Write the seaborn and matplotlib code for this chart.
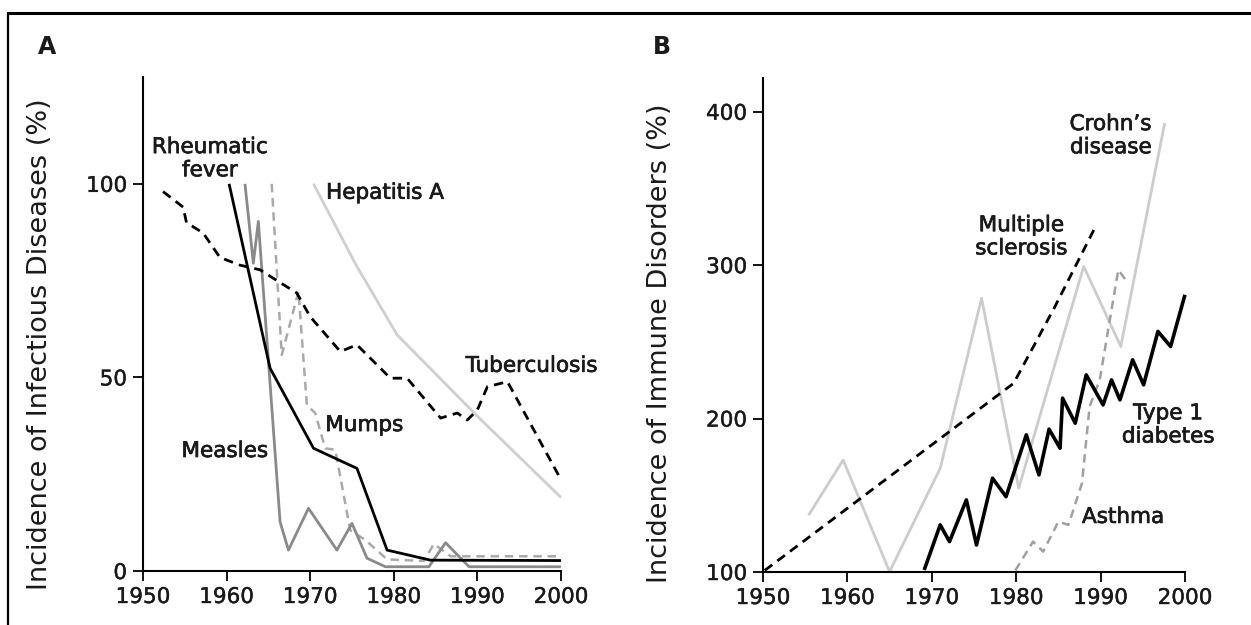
import numpy as np
import pandas as pd
import matplotlib
matplotlib.use("Agg")
import matplotlib.pyplot as plt
import matplotlib.patheffects as pe
import seaborn as sns
from matplotlib.lines import Line2D

sns.set_theme(style="ticks")
plt.rcParams["font.family"] = ["DejaVu Sans"]

# ---------------- Panel A: infectious diseases ----------------
tb_year = [1952.4, 1954.8, 1955.2, 1957.2, 1959.2, 1961.6, 1964.0, 1965.6, 1968.4, 1970.0,
           1973.6, 1975.6, 1979.6, 1981.6, 1985.6, 1987.6, 1988.8, 1990.0, 1991.2, 1993.6, 1999.8]
tb_val = [98, 94, 90, 87.3, 81, 79, 77.8, 75.6, 71.8, 65.7,
          56.7, 58.4, 49.8, 49.8, 39.5, 40.8, 39.0, 41.6, 47.6, 48.9, 24.4]

rf_year = [1960.3, 1965.2, 1970.4, 1975.6, 1979.2, 1984.4, 2000]
rf_val = [100, 52.4, 31.7, 26.5, 5.4, 2.8, 2.7]

measles_year = [1962.2, 1963.2, 1963.8, 1966.4, 1967.4, 1969.8, 1973.2, 1975.0, 1976.8,
                1979.0, 1984.2, 1986.2, 1989.0, 2000]
measles_val = [100, 79.5, 90.3, 12.7, 5.4, 16.2, 5.4, 12.3, 3.3, 1.1, 1.1, 7.3, 1.1, 1.1]

mumps_year = [1965.4, 1966.6, 1968.6, 1969.6, 1970.6, 1971.8, 1973.0, 1974.8, 1976.6,
              1979.2, 1983.6, 1984.8, 1986.8, 2000]
mumps_val = [100, 55.8, 72.2, 42.9, 40.8, 31.7, 31.3, 10.5, 8.0, 3.0, 2.6, 7.0, 3.8, 3.8]

hepa_year = [1970.4, 1975.5, 1980.4, 1990, 2000]
hepa_val = [100, 79, 61, 40, 19]

# ---------------- Panel B: immune disorders ----------------
ms_year = [1950.2, 1979.7, 1984.5, 1989.3]
ms_val = [101, 223, 272, 324]

crohn_year = [1955.4, 1959.5, 1965.0, 1971.0, 1975.9, 1980.3, 1988.0, 1992.4, 1997.6]
crohn_val = [137, 173, 100.2, 167.6, 278.5, 154.6, 299.2, 247, 392.7]

t1d_year = [1969.1, 1971.0, 1972.1, 1974.1, 1975.3, 1977.2, 1978.8, 1981.2, 1982.7, 1983.9,
            1985.2, 1985.5, 1987.0, 1988.3, 1990.3, 1991.3, 1992.3, 1993.8, 1995.1, 1996.8,
            1998.3, 2000.0]
t1d_val = [101.3, 130.7, 119.8, 147, 117.6, 161.1, 149.1, 189.4, 163.3, 193.1,
           180.7, 213.3, 197, 228.5, 208.9, 225.2, 212.2, 238.3, 222, 256.8, 247, 280.7]

asthma_year = [1979.9, 1982.0, 1983.2, 1985.0, 1986.2, 1987.8, 1988.7, 1989.9, 1992.1, 1993.1]
asthma_val = [101, 119.8, 113.3, 132.8, 130.7, 157.9, 207.8, 225.2, 297, 289.4]

x_ticks = [1950, 1960, 1970, 1980, 1990, 2000]
yticks_A = [0, 50, 100]
yticks_B = [100, 200, 300, 400]

TXT = "#1a1a1a"
LBL = 15.5

fig = plt.figure(figsize=(12.51, 6.25), dpi=100)
fig.patch.set_facecolor("white")
axA = fig.add_axes([0.1143, 0.0864, 0.3341, 0.7904])
axB = fig.add_axes([0.6099, 0.0848, 0.3373, 0.7904])


def draw(ax, xs, ys, color, lw, dashes=None):
    sns.lineplot(x=xs, y=ys, ax=ax, color=color, linewidth=lw, estimator=None,
                 sort=False, legend=False)
    ln = ax.lines[-1]
    ln.set_solid_capstyle("butt")
    if dashes is not None:
        ln.set_dashes(dashes)
        ln.set_dash_capstyle("butt")
    ln.set_clip_on(False)


draw(axA, hepa_year, hepa_val, "#cfcfcf", 2.0)
draw(axA, mumps_year, mumps_val, "#a9a9a9", 1.8, dashes=(3.4, 2.3))
draw(axA, measles_year, measles_val, "#8a8a8a", 2.0)
draw(axA, tb_year, tb_val, "black", 2.0, dashes=(3.4, 2.3))
draw(axA, rf_year, rf_val, "black", 2.0)

draw(axB, crohn_year, crohn_val, "#cccccc", 2.0)
draw(axB, asthma_year, asthma_val, "#a0a0a0", 1.8, dashes=(3.4, 2.3))
draw(axB, ms_year, ms_val, "black", 2.0, dashes=(3.4, 2.3))
draw(axB, t1d_year, t1d_val, "black", 2.6)

tick_fx = [pe.withStroke(linewidth=0.3, foreground=TXT)]
for ax in (axA, axB):
    ax.set_xlim(1950, 2000)
    ax.set_xticks(x_ticks)
    sns.despine(ax=ax)
    for s in ("left", "bottom"):
        ax.spines[s].set_linewidth(1.5)
        ax.spines[s].set_color("black")
    ax.tick_params(axis="both", direction="out", length=7.5, width=1.3, colors="black",
                   labelsize=15.5, labelcolor=TXT, pad=4)
    ax.set_xlabel("")
    ax.set_facecolor("white")

axA.set_ylim(0, 127.6)
axA.set_yticks(yticks_A)
axB.set_ylim(100, 422)
axB.set_yticks(yticks_B)

for ax in (axA, axB):
    for lab in ax.get_xticklabels() + ax.get_yticklabels():
        lab.set_path_effects(tick_fx)

axA.set_ylabel("Incidence of Infectious Diseases (%)", fontsize=19.5, color=TXT)
axB.set_ylabel("Incidence of Immune Disorders (%)", fontsize=19.5, color=TXT)
axA.yaxis.set_label_coords(-0.215, 0.4595)
axB.yaxis.set_label_coords(-0.2133, 0.4626)

# Series labels
heavy = [pe.withStroke(linewidth=0.5, foreground=TXT)]
kw = dict(fontsize=LBL, color=TXT, linespacing=1.2, path_effects=heavy)
axA.text(1958.0, 106.5, "Rheumatic\nfever", ha="center", va="center", **kw)
axA.text(1971.9, 97.7, "Hepatitis A", ha="left", va="center", **kw)
axA.text(1988.6, 53.0, "Tuberculosis", ha="left", va="center", **kw)
axA.text(1971.8, 37.7, "Mumps", ha="left", va="center", **kw)
axA.text(1954.6, 31.0, "Measles", ha="left", va="center", **kw)

axB.text(1980.6, 318.5, "Multiple\nsclerosis", ha="center", va="center", **kw)
axB.text(1991.2, 384.4, "Crohn\u2019s\ndisease", ha="center", va="center", **kw)
axB.text(1998.0, 195.9, "Type 1\ndiabetes", ha="center", va="center", **kw)
axB.text(1987.8, 135.9, "Asthma", ha="left", va="center", **kw)

# Panel letters
fig.text(38 / 1251, 1 - 47 / 625, "A", fontsize=17, fontweight="bold", color=TXT,
         ha="left", va="center")
fig.text(653 / 1251, 1 - 47 / 625, "B", fontsize=17, fontweight="bold", color=TXT,
         ha="left", va="center")

# Outer frame (top and left edges visible)
fig.add_artist(Line2D([8 / 1251, 1.0], [1 - 13 / 625, 1 - 13 / 625], transform=fig.transFigure,
                      color="black", linewidth=2.2))
fig.add_artist(Line2D([8 / 1251, 8 / 1251], [1 - 13 / 625, 0.0], transform=fig.transFigure,
                      color="black", linewidth=1.6))

fig.savefig("out.png", dpi=100, facecolor="white")
